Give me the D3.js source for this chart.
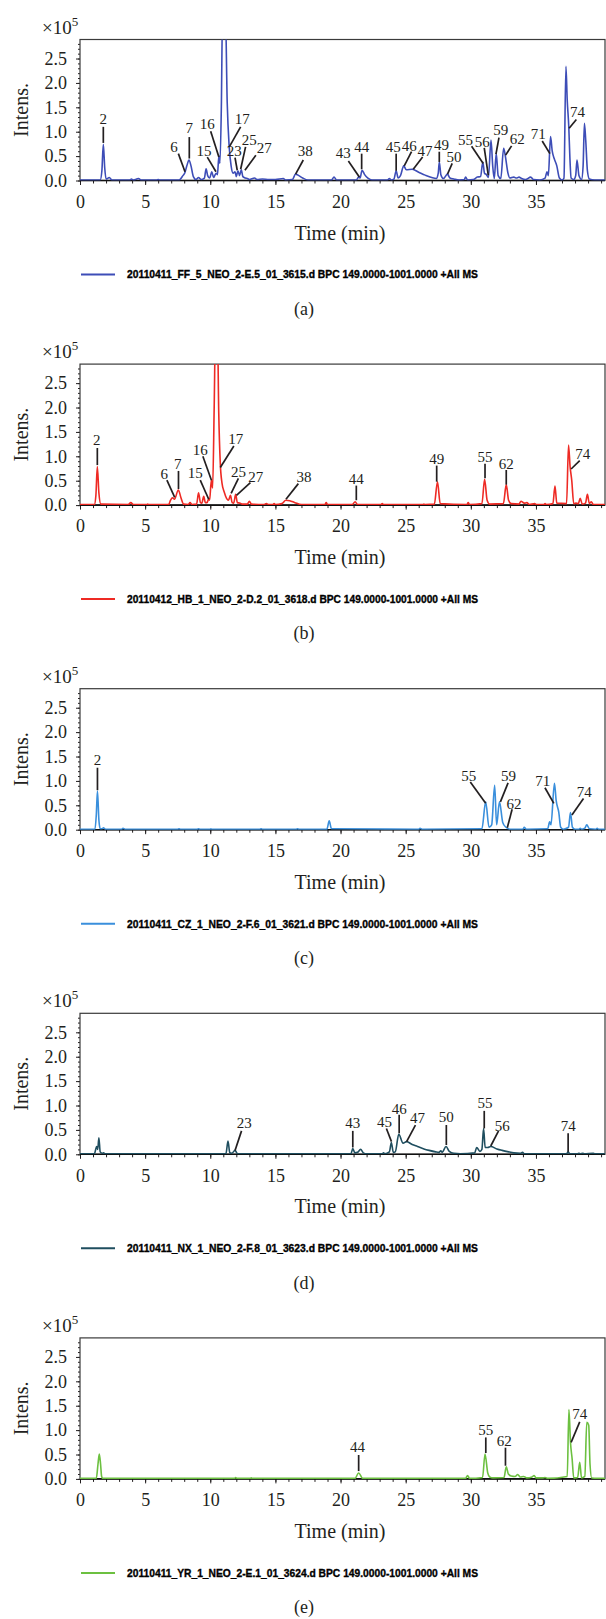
<!DOCTYPE html>
<html>
<head>
    <title>BPC chromatograms</title>
    <meta charset="utf-8" />
    <script type="text/javascript" src="https://cdn.jsdelivr.net/npm/d3@7/dist/d3.min.js"></script>
    <style>
        body { margin: 0; background: #fff; }
        svg text { font-family: "Liberation Serif", "DejaVu Serif", serif; fill: #231f20; }
    </style>
</head>
<body>
    <script type="text/javascript">

        //Page size
        var w = 606;
        var h = 1619;

        //Axis ticks
        var xTicks = [0, 5, 10, 15, 20, 25, 30, 35];
        var yTicks = [0, 0.5, 1.0, 1.5, 2.0, 2.5];

        var panelTags = ["(a)", "(b)", "(c)", "(d)", "(e)"];
        var legendNames = [
            "20110411_FF_5_NEO_2-E.5_01_3615.d BPC 149.0000-1001.0000 +All MS",
            "20110412_HB_1_NEO_2-D.2_01_3618.d BPC 149.0000-1001.0000 +All MS",
            "20110411_CZ_1_NEO_2-F.6_01_3621.d BPC 149.0000-1001.0000 +All MS",
            "20110411_NX_1_NEO_2-F.8_01_3623.d BPC 149.0000-1001.0000 +All MS",
            "20110411_YR_1_NEO_2-E.1_01_3624.d BPC 149.0000-1001.0000 +All MS"
        ];
        var lineColors = ["#3d4db7", "#ee2a24", "#3a8fdc", "#1f4e5f", "#6cc040"];

        //Traces: [time (min), intensity (x10^5)]
        var traceA = [[0, 0.01], [1.55, 0.01], [1.68, 0.2], [1.79, 0.74], [1.9, 0.25], [2.0, 0.03], [2.25, 0.06], [2.45, 0.01],
            [3.8, 0.01], [3.95, 0.03], [4.1, 0.01], [4.35, 0.03], [4.5, 0.04], [4.7, 0.01], [5.9, 0.01], [6.0, 0.02], [6.1, 0.01],
            [7.6, 0.01], [7.9, 0.1], [8.05, 0.16], [8.2, 0.3], [8.37, 0.42], [8.52, 0.3], [8.7, 0.08], [8.9, 0.02], [9.1, 0.06], [9.3, 0.02],
            [9.55, 0.05], [9.68, 0.24], [9.8, 0.1], [9.95, 0.05], [10.12, 0.18], [10.25, 0.06], [10.45, 0.15], [10.55, 0.12], [10.66, 0.5],
            [10.74, 0.35], [10.85, 1.5], [10.95, 3.6], [11.15, 3.6], [11.3, 1.6], [11.45, 0.7], [11.6, 0.3], [11.75, 0.15], [11.9, 0.18],
            [12.0, 0.08], [12.12, 0.2], [12.25, 0.1], [12.38, 0.22], [12.5, 0.08], [12.7, 0.05], [12.85, 0.04], [13.0, 0.02], [13.4, 0.05],
            [13.6, 0.02], [14.0, 0.03], [14.5, 0.02], [15.0, 0.02], [15.6, 0.04], [15.8, 0.01], [16.3, 0.02], [16.55, 0.13], [16.8, 0.1],
            [17.1, 0.05], [17.5, 0.01], [19.3, 0.01], [19.5, 0.07], [19.7, 0.01], [21.2, 0.01], [21.42, 0.08], [21.5, 0.05], [21.65, 0.21],
            [21.85, 0.12], [22.1, 0.05], [22.4, 0.01], [23.6, 0.01], [23.75, 0.04], [23.9, 0.01], [24.1, 0.03], [24.27, 0.2], [24.42, 0.05],
            [24.6, 0.1], [24.85, 0.3], [25.05, 0.22], [25.5, 0.23], [26.0, 0.17], [26.5, 0.11], [27.0, 0.06], [27.35, 0.04], [27.5, 0.15],
            [27.58, 0.38], [27.7, 0.12], [27.9, 0.04], [28.2, 0.13], [28.4, 0.05], [28.7, 0.03], [29.1, 0.01], [29.5, 0.02], [29.6, 0.07],
            [29.75, 0.01], [30.2, 0.02], [30.5, 0.07], [30.75, 0.08], [30.92, 0.38], [31.05, 0.15], [31.2, 0.12], [31.35, 0.06], [31.55, 0.83],
            [31.68, 0.3], [31.8, 0.04], [31.95, 0.55], [32.1, 0.1], [32.3, 0.04], [32.52, 0.66], [32.65, 0.5], [32.85, 0.15], [33.0, 0.05],
            [33.3, 0.07], [33.5, 0.05], [33.7, 0.07], [33.9, 0.04], [34.2, 0.02], [34.6, 0.07], [34.8, 0.02], [35.3, 0.01], [35.7, 0.05],
            [35.85, 0.18], [35.95, 0.1], [36.12, 0.9], [36.25, 0.6], [36.4, 0.45], [36.6, 0.3], [36.8, 0.05], [37.0, 0.01], [37.15, 0.05],
            [37.3, 2.34], [37.4, 1.65], [37.52, 1.1], [37.6, 0.5], [37.7, 0.05], [37.9, 0.02], [38.05, 0.1], [38.15, 0.42], [38.3, 0.1],
            [38.5, 0.02], [38.62, 0.3], [38.72, 1.17], [38.82, 0.83], [38.95, 0.2], [39.1, 0.03], [39.5, 0.01], [40.3, 0.01]];

        var traceB = [[0, 0.01], [1.1, 0.01], [1.22, 0.2], [1.33, 0.79], [1.45, 0.25], [1.6, 0.02], [3.7, 0.01], [3.9, 0.05], [4.1, 0.01],
            [5.1, 0.01], [5.2, 0.02], [5.3, 0.01], [6.8, 0.01], [6.95, 0.1], [7.1, 0.15], [7.25, 0.12], [7.55, 0.31], [7.75, 0.15], [7.95, 0.02],
            [8.3, 0.01], [8.45, 0.05], [8.6, 0.01], [8.95, 0.02], [9.1, 0.25], [9.25, 0.05], [9.35, 0.04], [9.5, 0.18], [9.62, 0.05], [9.75, 0.05],
            [9.88, 0.13], [9.95, 0.1], [10.08, 0.51], [10.18, 0.35], [10.3, 2.0], [10.4, 3.6], [10.55, 3.6], [10.65, 1.9], [10.77, 0.85],
            [10.9, 0.45], [11.07, 0.27], [11.25, 0.14], [11.4, 0.1], [11.55, 0.2], [11.68, 0.05], [11.8, 0.04], [11.95, 0.22], [12.08, 0.05],
            [12.3, 0.04], [12.45, 0.02], [12.85, 0.02], [13.0, 0.08], [13.15, 0.02], [14.1, 0.01], [14.3, 0.03], [14.5, 0.01], [14.8, 0.01],
            [14.9, 0.03], [15.0, 0.01], [15.5, 0.03], [15.8, 0.1], [16.1, 0.09], [16.5, 0.05], [17.0, 0.01], [18.8, 0.01], [18.9, 0.05],
            [19.0, 0.01], [20.9, 0.01], [21.12, 0.07], [21.3, 0.01], [23.1, 0.01], [23.2, 0.03], [23.3, 0.01], [26.3, 0.01], [26.4, 0.02],
            [26.5, 0.01], [27.2, 0.02], [27.44, 0.48], [27.65, 0.03], [29.7, 0.01], [29.8, 0.05], [29.9, 0.01], [30.85, 0.03], [31.06, 0.53],
            [31.25, 0.1], [31.45, 0.02], [32.5, 0.03], [32.72, 0.42], [32.9, 0.1], [33.1, 0.03], [33.7, 0.02], [33.85, 0.08], [34.1, 0.04],
            [34.3, 0.05], [34.5, 0.01], [34.9, 0.03], [35.05, 0.01], [35.6, 0.01], [35.7, 0.03], [35.8, 0.01], [36.3, 0.03], [36.46, 0.39],
            [36.6, 0.04], [37.35, 0.03], [37.5, 1.23], [37.62, 0.79], [37.75, 0.5], [37.9, 0.03], [38.06, 0.04], [38.25, 0.03], [38.4, 0.14],
            [38.55, 0.02], [38.8, 0.04], [38.95, 0.22], [39.1, 0.03], [39.25, 0.07], [39.4, 0.01], [40.3, 0.01]];

        var traceC = [[0, 0.01], [1.15, 0.01], [1.25, 0.3], [1.34, 0.79], [1.45, 0.2], [1.55, 0.02], [1.7, 0.02], [1.8, 0.04], [1.95, 0.01],
            [3.2, 0.01], [3.3, 0.03], [3.45, 0.01], [7.5, 0.01], [7.6, 0.02], [7.7, 0.01], [9.0, 0.01], [9.1, 0.02], [9.2, 0.01], [10.0, 0.01],
            [10.05, 0.02], [10.1, 0.01], [13.8, 0.01], [13.9, 0.02], [14.0, 0.01], [16.6, 0.01], [16.7, 0.02], [16.8, 0.01], [18.95, 0.01],
            [19.13, 0.18], [19.3, 0.02], [26.0, 0.01], [26.1, 0.03], [26.25, 0.01], [30.85, 0.02], [31.14, 0.57], [31.4, 0.05], [31.6, 0.1],
            [31.83, 0.91], [31.98, 0.1], [32.2, 0.57], [32.45, 0.15], [32.7, 0.05], [33.0, 0.01], [34.0, 0.01], [34.1, 0.05], [34.25, 0.01],
            [35.9, 0.02], [36.05, 0.16], [36.15, 0.1], [36.42, 0.95], [36.55, 0.6], [36.75, 0.36], [36.9, 0.05], [37.1, 0.01], [37.5, 0.05],
            [37.65, 0.35], [37.8, 0.05], [38.0, 0.01], [38.3, 0.01], [38.4, 0.03], [38.5, 0.01], [38.75, 0.03], [38.9, 0.1], [39.1, 0.02],
            [39.6, 0.01], [39.7, 0.03], [39.8, 0.01], [40.3, 0.01]];

        var traceD = [[0, 0.01], [1.1, 0.01], [1.28, 0.16], [1.36, 0.1], [1.45, 0.34], [1.55, 0.05], [1.7, 0.02], [1.8, 0.03], [1.95, 0.01],
            [11.2, 0.01], [11.36, 0.27], [11.5, 0.03], [11.65, 0.02], [11.9, 0.08], [12.1, 0.01], [20.8, 0.01], [20.94, 0.12], [21.1, 0.03],
            [21.3, 0.04], [21.54, 0.1], [21.75, 0.03], [22.0, 0.01], [23.2, 0.01], [23.3, 0.03], [23.4, 0.01], [23.75, 0.05], [23.9, 0.24],
            [24.05, 0.04], [24.2, 0.05], [24.47, 0.41], [24.8, 0.23], [25.07, 0.26], [25.5, 0.2], [25.9, 0.16], [26.4, 0.11], [26.8, 0.08],
            [27.3, 0.05], [27.55, 0.04], [27.7, 0.07], [27.8, 0.04], [28.1, 0.16], [28.35, 0.06], [28.7, 0.02], [29.2, 0.01], [30.3, 0.03],
            [30.45, 0.14], [30.7, 0.06], [30.85, 0.1], [30.98, 0.53], [31.1, 0.14], [31.3, 0.14], [31.53, 0.16], [32.0, 0.11], [32.4, 0.08],
            [32.9, 0.05], [33.3, 0.03], [33.8, 0.02], [33.97, 0.04], [34.1, 0.01], [34.6, 0.01], [37.35, 0.01], [37.47, 0.05], [37.6, 0.01],
            [38.2, 0.01], [38.3, 0.02], [38.4, 0.01], [38.6, 0.02], [38.7, 0.01], [39.4, 0.02], [39.5, 0.01], [40.3, 0.01]];

        var traceE = [[0, 0.01], [1.25, 0.01], [1.38, 0.3], [1.48, 0.51], [1.58, 0.3], [1.66, 0.05], [1.75, 0.01], [11.85, 0.01],
            [11.95, 0.03], [12.05, 0.01], [13.05, 0.01], [13.14, 0.02], [13.25, 0.01], [21.1, 0.01], [21.39, 0.12], [21.7, 0.01],
            [29.6, 0.01], [29.75, 0.07], [29.9, 0.01], [30.9, 0.03], [31.09, 0.51], [31.3, 0.12], [31.45, 0.04], [31.7, 0.02], [32.55, 0.03],
            [32.72, 0.25], [32.88, 0.1], [33.1, 0.06], [33.4, 0.05], [33.6, 0.09], [33.8, 0.04], [34.05, 0.05], [34.3, 0.02], [34.7, 0.04],
            [34.86, 0.07], [35.0, 0.02], [35.5, 0.02], [35.7, 0.03], [35.9, 0.01], [37.4, 0.05], [37.53, 1.42], [37.65, 0.75], [37.78, 0.4],
            [37.9, 0.02], [38.2, 0.03], [38.36, 0.34], [38.5, 0.02], [38.75, 0.05], [38.9, 1.16], [39.05, 1.1], [39.15, 0.3], [39.28, 0.02],
            [40.3, 0.01]];

        //Peak labels: [text, label time, label intens, leader from time, from intens, to time, to intens]
        var labelsA = [["2", 1.79, 1.27, 1.79, 1.1, 1.79, 0.77], ["6", 7.22, 0.69, 7.55, 0.55, 8.06, 0.18],
            ["7", 8.39, 1.08, 8.39, 0.89, 8.39, 0.45], ["15", 9.52, 0.62, 9.77, 0.48, 10.44, 0.18],
            ["16", 9.77, 1.17, 10.03, 1.01, 10.66, 0.48], ["17", 12.46, 1.27, 12.33, 1.1, 11.46, 0.69],
            ["23", 11.84, 0.61, 11.9, 0.47, 12.07, 0.21], ["25", 12.99, 0.84, 12.71, 0.69, 12.33, 0.23],
            ["27", 14.15, 0.67, 13.5, 0.52, 12.66, 0.21], ["38", 17.29, 0.61, 17.14, 0.42, 16.55, 0.13],
            ["43", 20.2, 0.57, 20.6, 0.4, 21.44, 0.07], ["44", 21.62, 0.69, 21.62, 0.55, 21.62, 0.23],
            ["45", 24.05, 0.69, 24.27, 0.55, 24.27, 0.2], ["46", 25.27, 0.72, 25.45, 0.59, 24.89, 0.3],
            ["47", 26.48, 0.61, 26.3, 0.48, 25.58, 0.23], ["49", 27.75, 0.74, 27.58, 0.59, 27.58, 0.38],
            ["50", 28.7, 0.48, 28.57, 0.35, 28.21, 0.13], ["55", 29.6, 0.84, 30.06, 0.7, 30.95, 0.35],
            ["56", 30.87, 0.79, 31.03, 0.67, 31.34, 0.11], ["59", 32.3, 1.03, 32.16, 0.88, 31.93, 0.54],
            ["62", 33.56, 0.86, 33.13, 0.71, 32.67, 0.52], ["71", 35.17, 0.96, 35.48, 0.81, 36.07, 0.55],
            ["74", 38.19, 1.41, 38.1, 1.25, 37.55, 1.07]];

        var labelsB = [["2", 1.28, 1.33, 1.33, 1.17, 1.33, 0.82], ["6", 6.47, 0.64, 6.67, 0.51, 7.27, 0.16],
            ["7", 7.5, 0.84, 7.56, 0.7, 7.56, 0.33], ["15", 8.84, 0.67, 9.23, 0.51, 9.88, 0.12],
            ["16", 9.23, 1.14, 9.43, 1.0, 10.09, 0.51], ["17", 11.95, 1.37, 11.81, 1.21, 10.77, 0.77],
            ["25", 12.16, 0.68, 12.16, 0.55, 11.6, 0.24], ["27", 13.5, 0.59, 13.08, 0.46, 12.01, 0.2],
            ["38", 17.2, 0.59, 16.76, 0.44, 15.81, 0.12], ["44", 21.21, 0.55, 21.21, 0.4, 21.21, 0.1],
            ["49", 27.38, 0.96, 27.38, 0.81, 27.38, 0.48], ["55", 31.09, 1.0, 31.09, 0.85, 31.09, 0.55],
            ["62", 32.72, 0.85, 32.72, 0.72, 32.72, 0.42], ["74", 38.6, 1.06, 38.36, 0.91, 37.7, 0.74]];

        var labelsC = [["2", 1.34, 1.43, 1.34, 1.27, 1.34, 0.81], ["55", 29.84, 1.11, 29.96, 0.98, 31.14, 0.54],
            ["59", 32.89, 1.11, 32.86, 0.96, 32.27, 0.57], ["62", 33.31, 0.54, 33.17, 0.42, 32.8, 0.04],
            ["71", 35.53, 1.0, 35.69, 0.86, 36.37, 0.54], ["74", 38.7, 0.77, 38.65, 0.64, 37.76, 0.3]];

        var labelsD = [["23", 12.6, 0.64, 12.4, 0.48, 11.9, 0.08], ["43", 20.94, 0.64, 20.94, 0.48, 20.94, 0.14],
            ["45", 23.38, 0.67, 23.52, 0.53, 23.91, 0.26], ["46", 24.5, 0.94, 24.5, 0.81, 24.5, 0.43],
            ["47", 25.9, 0.74, 25.75, 0.6, 25.07, 0.26], ["50", 28.12, 0.76, 28.12, 0.6, 28.12, 0.19],
            ["55", 31.09, 1.05, 31.03, 0.89, 31.03, 0.53], ["56", 32.42, 0.59, 32.13, 0.48, 31.53, 0.17],
            ["74", 37.47, 0.59, 37.47, 0.43, 37.47, 0.05]];

        var labelsE = [["44", 21.3, 0.65, 21.39, 0.49, 21.39, 0.16], ["55", 31.15, 1.01, 31.15, 0.85, 31.15, 0.53],
            ["62", 32.57, 0.79, 32.66, 0.64, 32.66, 0.27], ["74", 38.36, 1.33, 38.36, 1.17, 37.7, 0.75]];

        var traces = [traceA, traceB, traceC, traceD, traceE];
        var labels = [labelsA, labelsB, labelsC, labelsD, labelsE];

        //Layout
        var plotLeft = 80;
        var plotRight = 605;
        var plotH = 141;
        var firstTop = 39.5;
        var panelStep = 324.6;

        var xScale = d3.scaleLinear()
            .domain([0, 40.3])
            .range([plotLeft, plotRight]);

        var yScale = d3.scaleLinear()
            .domain([0, 2.89])
            .range([plotH, 0]);

        var line = d3.line()
            .x(function (d) { return xScale(d[0]); })
            .y(function (d) { return yScale(d[1]); })
            .curve(d3.curveMonotoneX);

        //Create SVG element
        var svg = d3.select("body")
            .append("svg")
            .attr("width", w)
            .attr("height", h);

        traces.forEach(function (trace, i) {

            var g = svg.append("g")
                .attr("transform", "translate(0," + (firstTop + i * panelStep) + ")");

            g.append("clipPath")
                .attr("id", "clip" + i)
                .append("rect")
                .attr("x", plotLeft)
                .attr("y", 0)
                .attr("width", plotRight - plotLeft)
                .attr("height", plotH);

            //Minor x ticks (every minute)
            g.append("g")
                .attr("transform", "translate(0," + plotH + ")")
                .call(d3.axisBottom(xScale).tickValues(d3.range(0, 41)).tickSize(3).tickFormat(""))
                .call(function (a) { a.select(".domain").remove(); });

            //Major x ticks
            var xAxis = g.append("g")
                .attr("transform", "translate(0," + plotH + ")")
                .call(d3.axisBottom(xScale).tickValues(xTicks).tickSize(4.5).tickPadding(10));
            xAxis.select(".domain").remove();
            xAxis.selectAll("text")
                .attr("font-family", "Liberation Serif, serif")
                .attr("font-size", "18px")
                .attr("fill", "#231f20");

            //Minor y ticks
            g.append("g")
                .attr("transform", "translate(" + plotLeft + ",0)")
                .call(d3.axisLeft(yScale).tickValues(d3.range(0, 29).map(function (k) { return k / 10; })).tickSize(2).tickFormat(""))
                .call(function (a) { a.select(".domain").remove(); });

            //Major y ticks
            var yAxis = g.append("g")
                .attr("transform", "translate(" + plotLeft + ",0)")
                .call(d3.axisLeft(yScale).tickValues(yTicks).tickSize(4).tickPadding(9).tickFormat(d3.format(".1f")));
            yAxis.select(".domain").remove();
            yAxis.selectAll("text")
                .attr("font-family", "Liberation Serif, serif")
                .attr("font-size", "18px")
                .attr("fill", "#231f20");

            g.selectAll(".tick line").attr("stroke", "#231f20");

            //Plot frame
            g.append("rect")
                .attr("x", plotLeft)
                .attr("y", 0)
                .attr("width", plotRight - plotLeft)
                .attr("height", plotH)
                .attr("fill", "none")
                .attr("stroke", "#3a3a3a")
                .attr("stroke-width", 1.2);

            g.append("line")
                .attr("x1", plotLeft).attr("x2", plotRight)
                .attr("y1", plotH).attr("y2", plotH)
                .attr("stroke", "#111")
                .attr("stroke-width", 1.6);

            //Trace
            g.append("path")
                .datum(trace)
                .attr("clip-path", "url(#clip" + i + ")")
                .attr("fill", "none")
                .attr("stroke", lineColors[i])
                .attr("stroke-width", 1.6)
                .attr("stroke-linejoin", "round")
                .attr("d", line);

            //Peak leaders and numbers
            g.selectAll(".leader")
                .data(labels[i])
                .enter()
                .append("line")
                .attr("class", "leader")
                .attr("x1", function (d) { return xScale(d[3]); })
                .attr("y1", function (d) { return yScale(d[4]); })
                .attr("x2", function (d) { return xScale(d[5]); })
                .attr("y2", function (d) { return yScale(d[6]); })
                .attr("stroke", "#231f20")
                .attr("stroke-width", 1.7);

            g.selectAll(".peak")
                .data(labels[i])
                .enter()
                .append("text")
                .attr("class", "peak")
                .attr("x", function (d) { return xScale(d[1]); })
                .attr("y", function (d) { return yScale(d[2]); })
                .attr("dy", "0.35em")
                .attr("text-anchor", "middle")
                .attr("font-size", "15px")
                .text(function (d) { return d[0]; });

            //x10^5
            var mult = g.append("text")
                .attr("x", 42)
                .attr("y", -6)
                .attr("font-size", "19px");
            mult.append("tspan").text("\u00d710");
            mult.append("tspan").attr("dy", "-8").attr("font-size", "13px").text("5");

            //Axis titles
            g.append("text")
                .attr("transform", "translate(28," + (plotH / 2) + ") rotate(-90)")
                .attr("text-anchor", "middle")
                .attr("font-size", "20px")
                .text("Intens.");

            g.append("text")
                .attr("x", 340)
                .attr("y", plotH + 52)
                .attr("dy", "0.35em")
                .attr("text-anchor", "middle")
                .attr("font-size", "20px")
                .text("Time (min)");

            //Legend
            g.append("line")
                .attr("x1", 81).attr("x2", 115)
                .attr("y1", plotH + 94).attr("y2", plotH + 94)
                .attr("stroke", lineColors[i])
                .attr("stroke-width", 2);

            g.append("text")
                .attr("x", 127)
                .attr("y", plotH + 94)
                .attr("dy", "0.36em")
                .attr("font-weight", "bold")
                .attr("font-size", "11px")
                .attr("textLength", 351)
                .attr("lengthAdjust", "spacingAndGlyphs")
                .style("font-family", "Liberation Sans, Arial, sans-serif")
                .style("fill", "#000")
                .attr("stroke", "#000")
                .attr("stroke-width", 0.35)
                .text(legendNames[i]);

            //Panel tag
            g.append("text")
                .attr("x", 304)
                .attr("y", plotH + 128)
                .attr("dy", "0.35em")
                .attr("text-anchor", "middle")
                .attr("font-size", "18px")
                .text(panelTags[i]);
        });

    </script>
</body>
</html>
